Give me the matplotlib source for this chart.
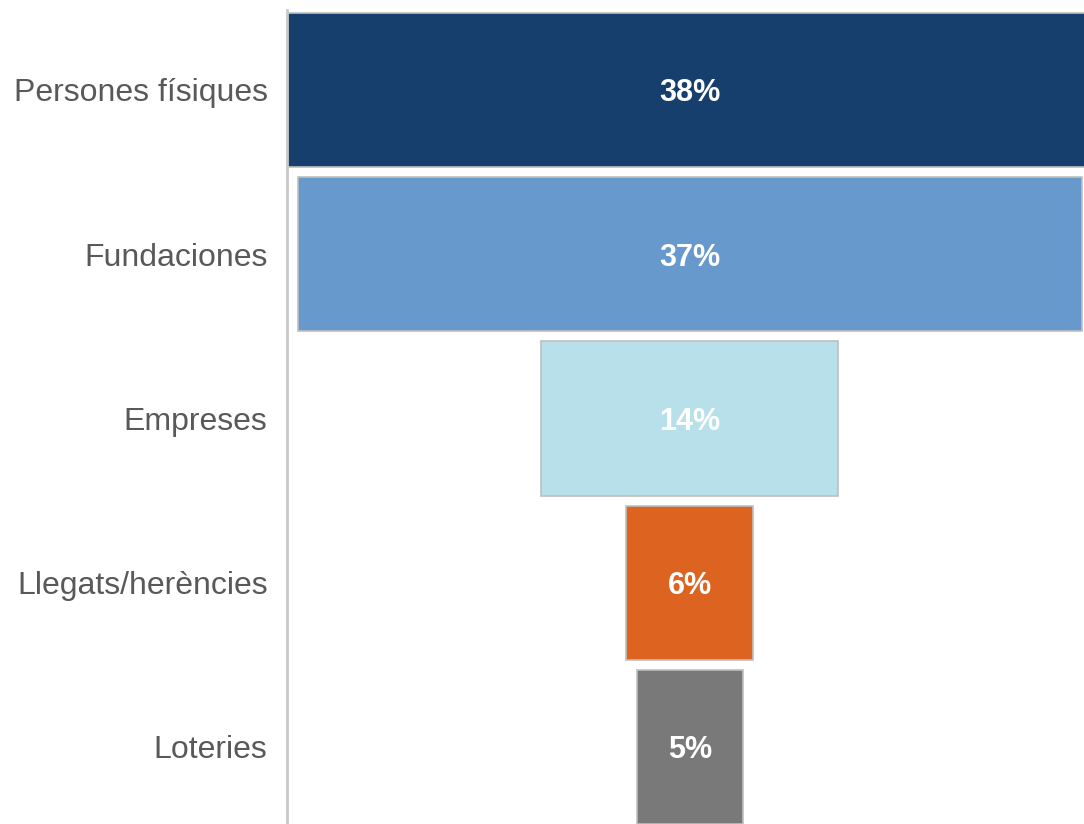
import matplotlib
matplotlib.use("Agg")
import matplotlib.pyplot as plt

# data
categories = ["Persones físiques", "Fundaciones", "Empreses", "Llegats/herències", "Loteries"]
values = [38, 37, 14, 6, 5]
labels = ["38%", "37%", "14%", "6%", "5%"]
colors = ["#173F6E", "#6799CC", "#B7E0EB", "#DD6320", "#797979"]

plt.rcParams['font.family'] = ['Liberation Sans', 'DejaVu Sans']

fig = plt.figure(figsize=(10.84, 8.24), dpi=100)
ax = fig.add_axes([287 / 1084, 0, 1 - 287 / 1084, 814 / 824])

ypos = list(range(len(categories)))
lefts = [-v / 2 for v in values]
ax.barh(ypos, values, left=lefts, height=0.94, color=colors,
        edgecolor="#BFBFBF", linewidth=1.2)

for y, lab in zip(ypos, labels):
    ax.text(0, y, lab, ha="center", va="center_baseline", color="white",
            fontsize=22, fontweight="bold")

ax.set_xlim(-19, 18.6)
ax.set_ylim(4.469, -0.487)
ax.set_yticks(ypos)
ax.set_yticklabels(categories, fontsize=23, color="#595959", va="center_baseline")
ax.tick_params(axis="y", length=0, pad=14)
ax.set_xticks([])

for s in ["top", "right", "bottom"]:
    ax.spines[s].set_visible(False)
ax.spines["left"].set_color("#C8C8C8")
ax.spines["left"].set_linewidth(2)

fig.savefig("out.png", dpi=100)
